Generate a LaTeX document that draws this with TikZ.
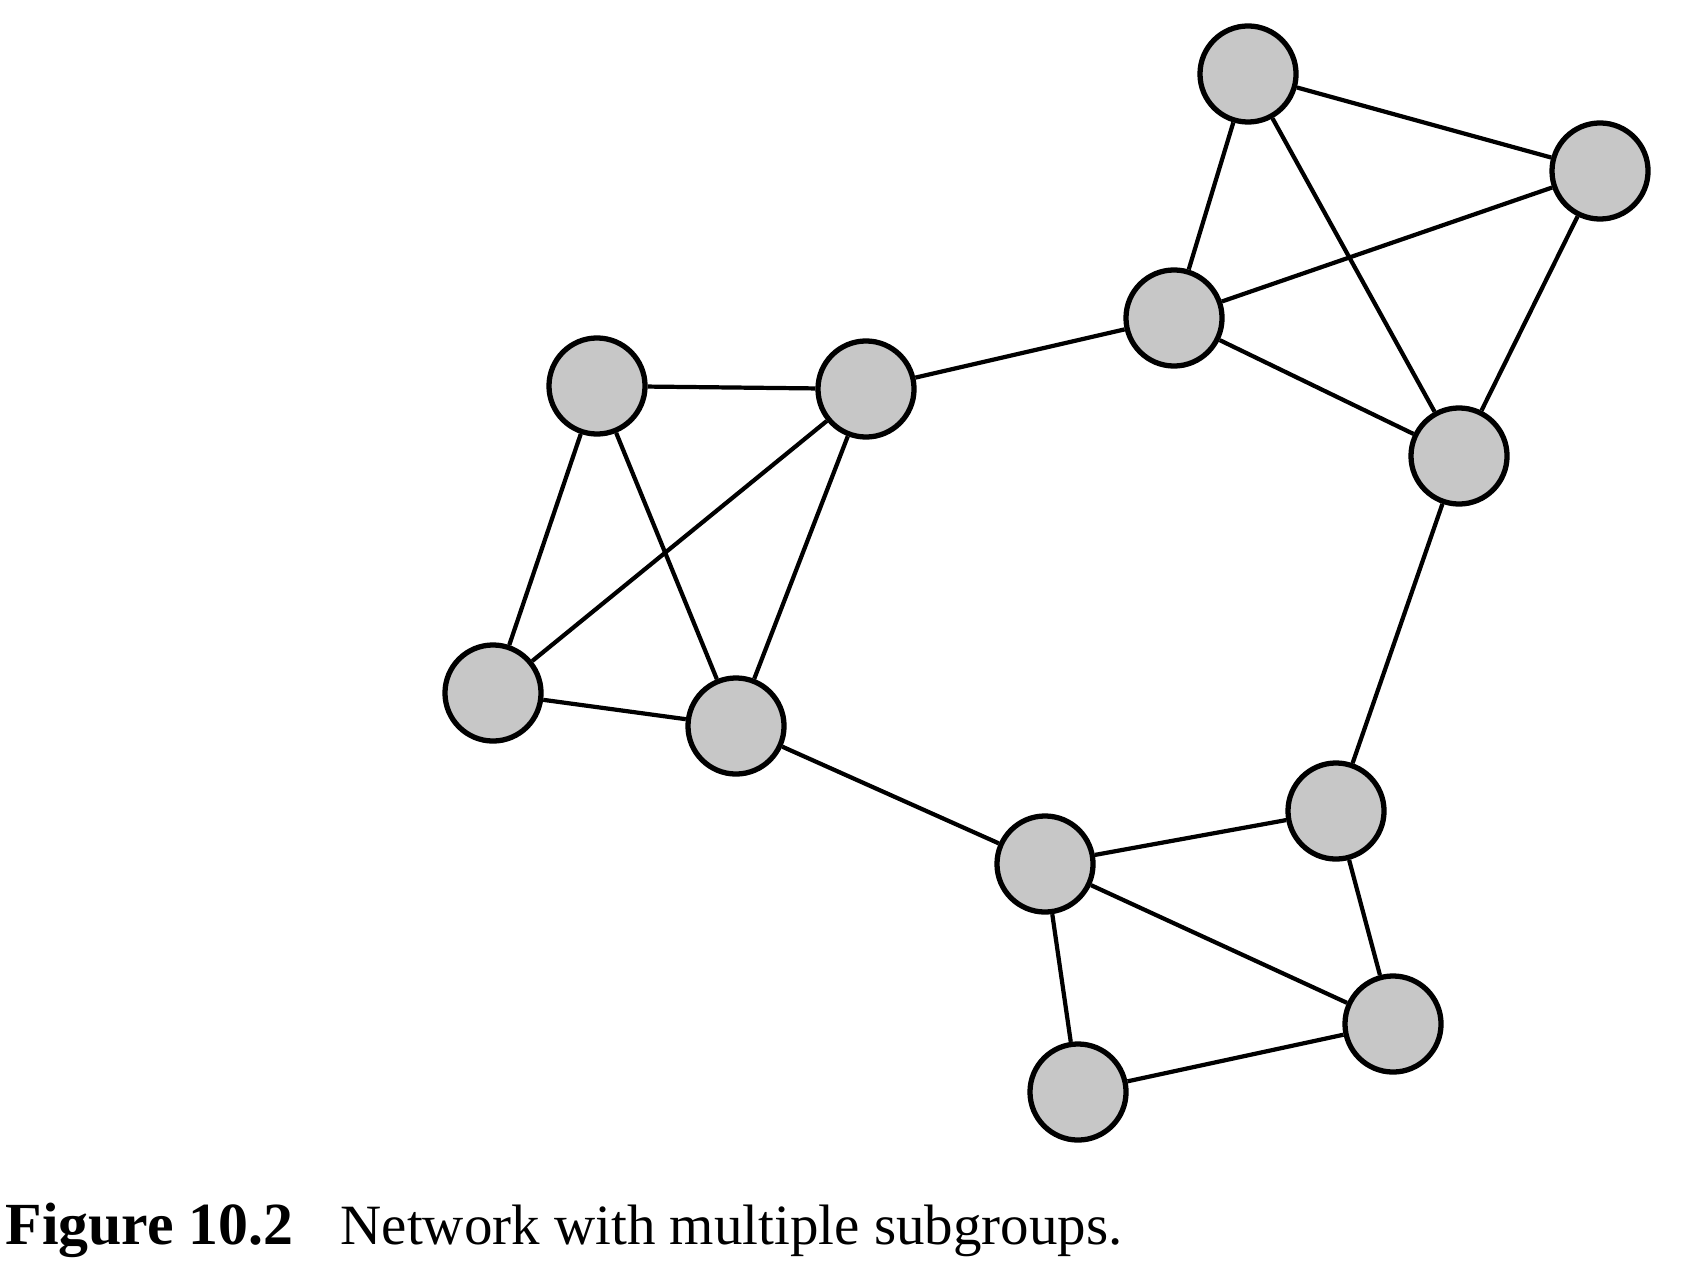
\documentclass[tikz,border=0pt]{standalone}
\usepackage{fontspec}
\setmainfont{Liberation Serif}
\usepackage{tikz}
\usetikzlibrary{positioning}
\tikzset{>=latex}

\begin{document}
\begin{tikzpicture}[x=0.01cm,y=-0.01cm,
    actor/.style={circle,draw,line width=1.5pt,fill=black!22,minimum size=0.96cm,inner sep=0pt},
    tie/.style={line width=1.2pt}]
    \useasboundingbox (0,0) rectangle (1704,1270);
    % upper right group
    \node [actor] (a) at (1248,74) {};
    \node [actor] (b) at (1600,171) {};
    \node [actor] (c) at (1174,318) {};
    \node [actor] (d) at (1459,456) {};
    % left group
    \node [actor] (e) at (597,386) {};
    \node [actor] (f) at (866,389) {};
    \node [actor] (g) at (493,693) {};
    \node [actor] (h) at (736,726) {};
    % lower right group
    \node [actor] (i) at (1045,864) {};
    \node [actor] (j) at (1336,811) {};
    \node [actor] (k) at (1393,1024) {};
    \node [actor] (l) at (1078,1092) {};
    \foreach \u/\v in {a/b,a/c,a/d,b/c,b/d,c/d,c/f,e/f,e/g,e/h,f/g,f/h,g/h,h/i,d/j,i/j,i/k,i/l,j/k,k/l}
      \draw [tie] (\u) -- (\v);
    \node [anchor=base west,inner sep=0pt,font=\fontsize{17}{20}\selectfont\bfseries] (fignum) at (5,1244) {Figure 10.2};
    \node [anchor=base west,inner sep=0pt,font=\fontsize{16.2}{19}\selectfont] (figtitle) at (340,1244) {Network with multiple subgroups.};
\end{tikzpicture}
\end{document}
